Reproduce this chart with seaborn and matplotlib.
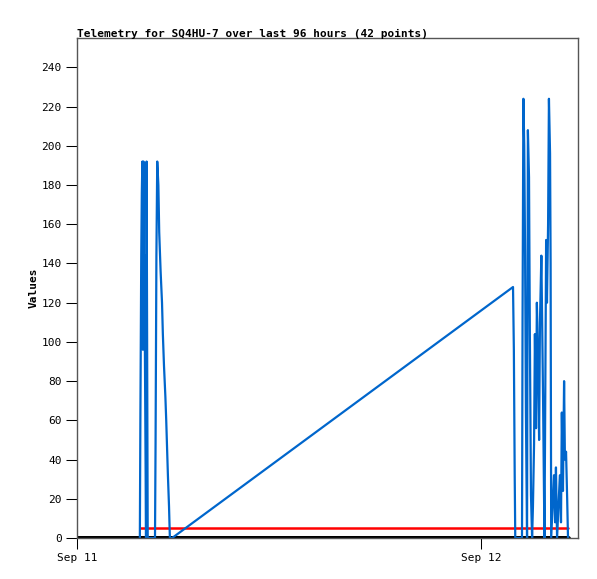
import matplotlib
matplotlib.use("Agg")
import matplotlib.pyplot as plt
import pandas as pd
import seaborn as sns

# minutes after Sep 11 00:00
minutes = [224, 226, 229, 231, 233, 235, 237, 239, 241, 242, 244, 246, 248, 250, 252,
           278, 280, 283, 286, 290, 293, 298, 303, 306, 310, 315, 318, 321, 324, 328, 331, 339,
           1554, 1557, 1560, 1562, 1586, 1588, 1591, 1594, 1597, 1600, 1604, 1607, 1611,
           1614, 1618, 1622, 1625, 1629, 1632, 1636, 1639, 1643, 1647, 1650, 1655, 1661,
           1666, 1668, 1672, 1675, 1679, 1682, 1686, 1688, 1690, 1700, 1704, 1707, 1711,
           1721, 1725, 1728, 1732, 1736, 1739, 1743, 1747, 1750]
values = [0, 64, 144, 176, 192, 96, 192, 112, 144, 96, 48, 0, 192, 96, 0,
          0, 48, 144, 192, 180, 156, 136, 120, 104, 88, 72, 60, 46, 32, 16, 0, 0,
          128, 96, 32, 0, 0, 112, 224, 200, 144, 64, 0, 208, 184,
          104, 22, 0, 16, 48, 104, 56, 120, 92, 50, 110, 144, 72,
          0, 48, 152, 120, 160, 224, 196, 140, 0, 32, 8, 36, 0,
          32, 8, 64, 24, 80, 40, 44, 20, 0]
threshold = 5
yticks = list(range(0, 241, 20))
xtick_pos = [0, 24]
xtick_labels = ["Sep 11", "Sep 12"]
title = "Telemetry for SQ4HU-7 over last 96 hours (42 points)"

df = pd.DataFrame({"hours": [m / 60 for m in minutes], "value": values})
t0, t1 = df["hours"].iloc[0], df["hours"].iloc[-1]
ref = pd.DataFrame({"hours": [t0, t1], "value": [threshold, threshold]})
zero = pd.DataFrame({"hours": [0, t1], "value": [0, 0]})

sns.set_style("white")
plt.rcParams["font.family"] = ["DejaVu Sans Mono"]

fig = plt.figure(figsize=(5.97, 5.79), dpi=100)
ax = fig.add_axes([77 / 597, 41 / 579, 501 / 597, 500 / 579])

sns.lineplot(data=zero, x="hours", y="value", ax=ax, color="black", linewidth=3.6)
sns.lineplot(data=ref, x="hours", y="value", ax=ax, color="#ff0000", linewidth=1.8)
sns.lineplot(data=df, x="hours", y="value", ax=ax, color="#0066cc", linewidth=1.6,
             estimator=None, sort=False)

ax.set_xlim(0, 1785.6 / 60)
ax.set_ylim(0, 255)
ax.set_yticks(yticks)
ax.set_xticks(xtick_pos)
ax.set_xticklabels(xtick_labels)
ax.tick_params(axis="both", direction="out", length=8, width=0.75, labelsize=8,
               color="black", labelcolor="black", left=True, bottom=True,
               right=False, top=False)
ax.tick_params(axis="x", pad=3)
ax.tick_params(axis="y", pad=3)
for s in ax.spines.values():
    s.set_color("#555555")
    s.set_linewidth(1)
ax.set_xlabel("")
ax.set_ylabel("Values", fontsize=8, fontweight="bold", labelpad=2, color="black")
ax.set_title(title, fontsize=8, fontweight="bold", loc="left", pad=1, color="black")
ax.grid(False)

fig.savefig("out.png", dpi=100)
